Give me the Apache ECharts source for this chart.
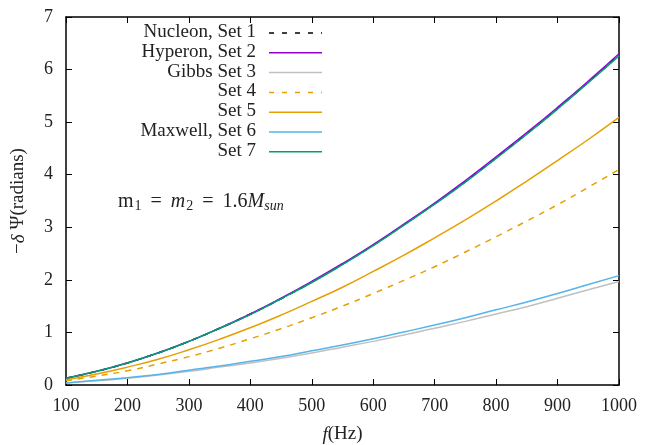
<!DOCTYPE html>
<html>
<head>
<meta charset="utf-8">
<script src="https://cdn.jsdelivr.net/npm/echarts@6/dist/echarts.min.js"></script>
<style>
  html, body { margin: 0; padding: 0; background: #fff; }
  #chart { width: 654px; height: 445px; }
</style>
</head>
<body>
<div id="chart"></div>
<script>
// Frequency grid (Hz)
const freq = [100, 150, 200, 250, 300, 350, 400, 450, 500, 550, 600, 650, 700, 750, 800, 850, 900, 950, 1000];

// Phase difference -δΨ (radians) for each equation of state
const set1 = [0.13, 0.26, 0.42, 0.61, 0.83, 1.08, 1.35, 1.64, 1.96, 2.30, 2.66, 3.05, 3.45, 3.87, 4.32, 4.78, 5.26, 5.76, 6.28];
const set2 = [0.13, 0.26, 0.42, 0.61, 0.83, 1.08, 1.35, 1.65, 1.97, 2.31, 2.67, 3.06, 3.46, 3.89, 4.34, 4.80, 5.28, 5.78, 6.30];
const set3 = [0.04, 0.08, 0.13, 0.19, 0.26, 0.34, 0.42, 0.51, 0.61, 0.72, 0.83, 0.95, 1.08, 1.21, 1.35, 1.49, 1.65, 1.81, 1.97];
const set4 = [0.08, 0.17, 0.27, 0.40, 0.54, 0.70, 0.88, 1.07, 1.28, 1.50, 1.74, 1.99, 2.25, 2.53, 2.82, 3.12, 3.43, 3.76, 4.10];
const set5 = [0.10, 0.21, 0.34, 0.49, 0.67, 0.87, 1.09, 1.33, 1.59, 1.86, 2.16, 2.47, 2.80, 3.14, 3.50, 3.88, 4.27, 4.67, 5.09];
const set6 = [0.04, 0.09, 0.14, 0.20, 0.28, 0.36, 0.45, 0.54, 0.65, 0.76, 0.88, 1.01, 1.14, 1.28, 1.43, 1.58, 1.74, 1.91, 2.08];
const set7 = [0.13, 0.26, 0.42, 0.61, 0.83, 1.08, 1.34, 1.64, 1.95, 2.29, 2.65, 3.04, 3.44, 3.86, 4.31, 4.77, 5.25, 5.75, 6.26];

const names = ['Nucleon, Set 1', 'Hyperon, Set 2', 'Gibbs Set 3', 'Set 4', 'Set 5', 'Maxwell, Set 6', 'Set 7'];
const values = [set1, set2, set3, set4, set5, set6, set7];
const colors = ['#000000', '#9400d3', '#c0c0c0', '#e69f00', '#e69f00', '#56b4e9', '#009e73'];
const dashed = [true, false, false, true, false, false, false];

const xTicks = [100, 200, 300, 400, 500, 600, 700, 800, 900, 1000];
const yTicks = [0, 1, 2, 3, 4, 5, 6, 7];

const FONT = 'Liberation Serif';
const TXT = '#222';
const GRID = { left: 66, right: 35, top: 17, bottom: 60, outerBoundsMode: 'none', containLabel: false };

const chart = echarts.init(document.getElementById('chart'), null, { renderer: 'canvas' });

const series = names.map((n, i) => ({
  name: n,
  type: 'line',
  xAxisIndex: 0,
  yAxisIndex: 0,
  showSymbol: false,
  smooth: true,
  data: freq.map((f, k) => [f, values[i][k]]),
  lineStyle: { color: colors[i], width: 1.5, type: dashed[i] ? [6, 6] : 'solid' },
  z: 2 + i
}));

// Key: right-aligned labels with line samples
const legendGraphics = [];
const rowY0 = 32, rowStep = 19.8;
names.forEach((n, i) => {
  const y = rowY0 + i * rowStep;
  legendGraphics.push({
    type: 'text', x: 256, y: y,
    style: { text: n, font: '19px "' + FONT + '"', fill: TXT, textAlign: 'right', textVerticalAlign: 'middle' }
  });
  legendGraphics.push({
    type: 'line',
    shape: { x1: 269, y1: y + 1, x2: 322, y2: y + 1 },
    style: { stroke: colors[i], lineWidth: 1.5, lineDash: dashed[i] ? [5, 8] : null }
  });
});

const axisCommon = {
  axisLine: { show: true, onZero: false, lineStyle: { color: '#000', width: 1.5 } },
  axisTick: { show: true, inside: true, length: 6, lineStyle: { color: '#000', width: 1 } },
  splitLine: { show: false }
};

const italic = { fontStyle: 'italic', fontFamily: FONT, fontSize: 19, color: TXT };

chart.setOption({
  backgroundColor: '#fff',
  animation: false,
  grid: GRID,
  xAxis: [
    Object.assign({
      type: 'value', min: 100, max: 1000, interval: 100, position: 'bottom',
      axisLabel: { color: TXT, fontFamily: FONT, fontSize: 18, margin: 12,
        formatter: v => xTicks.includes(v) ? String(v) : '' },
      name: '{i|f}(Hz)', nameLocation: 'middle', nameGap: 40,
      nameTextStyle: { color: TXT, fontFamily: FONT, fontSize: 19, rich: { i: italic } }
    }, axisCommon),
    Object.assign({
      type: 'value', min: 100, max: 1000, interval: 100, position: 'top',
      axisLabel: { show: false }
    }, axisCommon)
  ],
  yAxis: [
    Object.assign({
      type: 'value', min: 0, max: 7, interval: 1, position: 'left',
      axisLabel: { color: TXT, fontFamily: FONT, fontSize: 18, margin: 13,
        formatter: v => yTicks.includes(v) ? String(v) : '' },
      name: '−{i|δ} Ψ(radians)', nameLocation: 'middle', nameGap: 38, nameRotate: 90,
      nameTextStyle: { color: TXT, fontFamily: FONT, fontSize: 19, rich: { i: italic } }
    }, axisCommon),
    Object.assign({
      type: 'value', min: 0, max: 7, interval: 1, position: 'right',
      axisLabel: { show: false }
    }, axisCommon)
  ],
  series: series,
  graphic: legendGraphics.concat([
    {
      type: 'text', x: 118, y: 202,
      style: {
        text: 'm{s|1}{e|=}{i|m}{s|2}{e|=}1.6{i|M}{si|sun}',
        font: '20px "' + FONT + '"', fill: TXT, textVerticalAlign: 'middle',
        rich: {
          i: { fontStyle: 'italic', fontFamily: FONT, fontSize: 20, fill: TXT },
          e: { fontFamily: FONT, fontSize: 20, fill: TXT, padding: [0, 9, 0, 9] },
          s: { fontFamily: FONT, fontSize: 14, fill: TXT, padding: [9, 0, 0, 1] },
          si: { fontStyle: 'italic', fontFamily: FONT, fontSize: 14, fill: TXT, padding: [9, 0, 0, 0] }
        }
      }
    }
  ])
});
</script>
</body>
</html>
